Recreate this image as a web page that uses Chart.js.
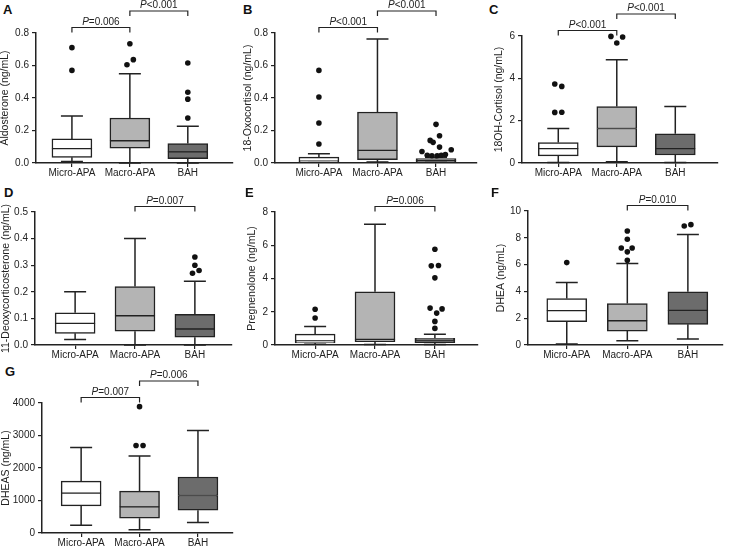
<!DOCTYPE html>
<html>
<head>
<meta charset="utf-8">
<script src="https://cdn.jsdelivr.net/npm/chart.js@4.4.1/dist/chart.umd.min.js"></script>
<style>
body { margin: 0; background: #fff; }
#fig { position: relative; width: 729px; height: 547px; overflow: hidden; }
#fig canvas { position: absolute; }
.tag { position: absolute; font: bold 13px "Liberation Sans", Arial, sans-serif; line-height: 1; color: #111; }
</style>
</head>
<body>
<div id="fig"></div>
<script>
const groups = ['Micro-APA', 'Macro-APA', 'BAH'];

// box values per group: [min, q1, median, q3, max]
const aldosterone = [[0.01, 0.035, 0.088, 0.148, 0.29], [0.0, 0.092, 0.137, 0.277, 0.55], [0.0, 0.027, 0.068, 0.12, 0.226]];
const oxocortisol = [[0.005, 0.006, 0.012, 0.036, 0.057], [0.006, 0.02, 0.078, 0.314, 0.763], [0.004, 0.006, 0.016, 0.027, 0.035]];
const hydroxycortisol = [[0.02, 0.34, 0.68, 0.97, 1.63], [0.06, 0.76, 1.63, 2.67, 4.88], [0.02, 0.38, 0.68, 1.38, 2.67]];
const deoxycorticosterone = [[0.021, 0.044, 0.081, 0.121, 0.2], [0.0, 0.052, 0.11, 0.22, 0.4], [0.0, 0.029, 0.06, 0.115, 0.24]];
const pregnenolone = [[0.04, 0.12, 0.25, 0.65, 1.12], [0.03, 0.2, 0.34, 3.2, 7.26], [0.03, 0.14, 0.3, 0.4, 0.64]];
const dhea = [[0.07, 1.74, 2.56, 3.47, 4.67], [0.32, 1.04, 1.81, 3.1, 6.08], [0.45, 1.54, 2.58, 3.97, 8.24]];
const dheas = [[237, 835, 1227, 1598, 2629], [103, 454, 804, 1289, 2371], [320, 701, 1155, 1722, 3155]];

// outliers: [group, value, sideways shift]
const aldosteroneOut = [[0, 0.71, 0], [0, 0.57, 0], [1, 0.734, 0], [1, 0.605, -0.05], [1, 0.636, 0.06],
  [2, 0.615, 0], [2, 0.435, 0], [2, 0.393, 0], [2, 0.277, 0]];
const oxocortisolOut = [[0, 0.57, 0], [0, 0.406, 0], [0, 0.246, 0], [0, 0.117, 0],
  [2, 0.238, 0], [2, 0.168, 0.06], [2, 0.139, -0.1], [2, 0.127, -0.05], [2, 0.098, 0.06], [2, 0.071, -0.24],
  [2, 0.082, 0.26], [2, 0.048, -0.15], [2, 0.045, -0.07], [2, 0.045, 0.02], [2, 0.048, 0.09], [2, 0.052, 0.16]];
const hydroxycortisolOut = [[0, 3.73, -0.06], [0, 3.62, 0.06], [0, 2.39, -0.06], [0, 2.4, 0.06],
  [1, 5.98, -0.1], [1, 5.67, 0], [1, 5.95, 0.1]];
const deoxycorticosteroneOut = [[2, 0.331, 0], [2, 0.3, 0], [2, 0.27, -0.04], [2, 0.28, 0.07]];
const pregnenoloneOut = [[0, 2.15, 0], [0, 1.62, 0],
  [2, 5.76, 0], [2, 4.76, -0.06], [2, 4.78, 0.06], [2, 4.04, 0], [2, 2.22, -0.08], [2, 2.17, 0.12],
  [2, 1.92, 0.03], [2, 1.42, 0], [2, 1.0, 0]];
const dheaOut = [[0, 6.15, 0], [1, 8.51, 0], [1, 7.89, 0], [1, 7.24, -0.1], [1, 7.24, 0.08], [1, 6.95, 0], [1, 6.33, 0],
  [2, 8.88, -0.06], [2, 8.98, 0.05]];
const dheasOut = [[1, 3887, 0], [1, 2691, -0.06], [1, 2691, 0.06]];

// p-values: [text after P, from group, to group, level]
const pAldosterone = [['=0.006', 0, 1, 0], ['<0.001', 1, 2, 1]];
const pOxocortisol = [['<0.001', 0, 1, 0], ['<0.001', 1, 2, 1]];
const pHydroxycortisol = [['<0.001', 0, 1, 0], ['<0.001', 1, 2, 1]];
const pDeoxycorticosterone = [['=0.007', 1, 2, 0]];
const pPregnenolone = [['=0.006', 1, 2, 0]];
const pDhea = [['=0.010', 1, 2, 0]];
const pDheas = [['=0.007', 0, 1, 0], ['=0.006', 1, 2, 1]];

const fills = ['#ffffff', '#b4b4b4', '#6c6c6c'];
const ink = '#222';
const fontFamily = '"Liberation Sans", Arial, sans-serif';

const panels = [
  { tag: 'A', tx: 3, ty: 3, title: 'Aldosterone (ng/mL)', box: aldosterone, out: aldosteroneOut, p: pAldosterone, yMax: 0.8, step: 0.2, dec: 1,
    L: -1, T: 0, H: 182, axisX: 36, axisEnd: 233, top: 33, bottom: 163, xmin: -0.62, xmax: 2.78 },
  { tag: 'B', tx: 243, ty: 3, title: '18-Oxocortisol (ng/mL)', box: oxocortisol, out: oxocortisolOut, p: pOxocortisol, yMax: 0.8, step: 0.2, dec: 1,
    L: 242, T: 0, H: 182, axisX: 275, axisEnd: 477, top: 33, bottom: 163, xmin: -0.75, xmax: 2.7 },
  { tag: 'C', tx: 489, ty: 3, title: '18OH-Cortisol (ng/mL)', box: hydroxycortisol, out: hydroxycortisolOut, p: pHydroxycortisol, yMax: 6, step: 2, dec: 0,
    L: 493, T: 0, H: 182, axisX: 522, axisEnd: 718, top: 36, bottom: 163, xmin: -0.62, xmax: 2.73 },
  { tag: 'D', tx: 4, ty: 186, title: '11-Deoxycorticosterone (ng/mL)', box: deoxycorticosterone, out: deoxycorticosteroneOut, p: pDeoxycorticosterone, yMax: 0.5, step: 0.1, dec: 1,
    L: 0, T: 180, H: 182, axisX: 35, axisEnd: 232, top: 212, bottom: 345, xmin: -0.67, xmax: 2.62 },
  { tag: 'E', tx: 245, ty: 186, title: 'Pregnenolone (ng/mL)', box: pregnenolone, out: pregnenoloneOut, p: pPregnenolone, yMax: 8, step: 2, dec: 0,
    L: 246, T: 180, H: 182, axisX: 275, axisEnd: 478, top: 212, bottom: 345, xmin: -0.67, xmax: 2.72 },
  { tag: 'F', tx: 491, ty: 186, title: 'DHEA (ng/mL)', box: dhea, out: dheaOut, p: pDhea, yMax: 10, step: 2, dec: 0,
    L: 495, T: 180, H: 182, axisX: 528, axisEnd: 723, top: 211, bottom: 345, xmin: -0.64, xmax: 2.58 },
  { tag: 'G', tx: 5, ty: 365, title: 'DHEAS (ng/mL)', box: dheas, out: dheasOut, p: pDheas, yMax: 4000, step: 1000, dec: 0,
    L: 0, T: 360, H: 187, axisX: 42, axisEnd: 233, top: 403, bottom: 533, xmin: -0.67, xmax: 2.6 }
];

Chart.defaults.font.family = fontFamily;
Chart.defaults.font.size = 10;
Chart.defaults.color = ink;

// whiskers under the boxes, brackets with p-values above the plot
function boxExtras(panel) {
  return {
    id: 'boxExtras',
    beforeDatasetsDraw(chart) {
      const { ctx, scales: { x, y } } = chart;
      ctx.save();
      ctx.strokeStyle = ink;
      ctx.lineWidth = 1.5;
      panel.box.forEach((b, i) => {
        const px = x.getPixelForValue(i);
        ctx.beginPath();
        ctx.moveTo(px, y.getPixelForValue(b[3]));
        ctx.lineTo(px, y.getPixelForValue(b[4]));
        ctx.moveTo(px, y.getPixelForValue(b[1]));
        ctx.lineTo(px, y.getPixelForValue(b[0]));
        [b[0], b[4]].forEach(v => {
          const py = y.getPixelForValue(v);
          ctx.moveTo(px - 11, py);
          ctx.lineTo(px + 11, py);
        });
        ctx.stroke();
      });
      ctx.restore();
    },
    afterDraw(chart) {
      const { ctx, chartArea, scales: { x } } = chart;
      ctx.save();
      ctx.strokeStyle = ink;
      ctx.fillStyle = ink;
      ctx.lineWidth = 1.2;
      ctx.textBaseline = 'alphabetic';
      panel.p.forEach(([txt, a, b, level]) => {
        const by = chartArea.top - (level ? 22 : 5.5);
        const x1 = x.getPixelForValue(a), x2 = x.getPixelForValue(b);
        ctx.beginPath();
        ctx.moveTo(x1, by + 5);
        ctx.lineTo(x1, by);
        ctx.lineTo(x2, by);
        ctx.lineTo(x2, by + 5);
        ctx.stroke();
        ctx.font = 'italic 10px ' + fontFamily;
        const wp = ctx.measureText('P').width;
        ctx.font = '10px ' + fontFamily;
        const wr = ctx.measureText(txt).width;
        const sx = (x1 + x2) / 2 - (wp + wr) / 2;
        ctx.textAlign = 'left';
        ctx.font = 'italic 10px ' + fontFamily;
        ctx.fillText('P', sx, by - 3);
        ctx.font = '10px ' + fontFamily;
        ctx.fillText(txt, sx + wp, by - 3);
      });
      ctx.restore();
    }
  };
}

const fig = document.getElementById('fig');

panels.forEach(panel => {
  const tag = document.createElement('div');
  tag.className = 'tag';
  tag.textContent = panel.tag;
  tag.style.left = panel.tx + 'px';
  tag.style.top = panel.ty + 'px';
  fig.appendChild(tag);

  const W = panel.axisEnd - panel.L + 5;
  const canvas = document.createElement('canvas');
  canvas.width = W;
  canvas.height = panel.H;
  canvas.style.left = panel.L + 'px';
  canvas.style.top = panel.T + 'px';
  canvas.style.width = W + 'px';
  canvas.style.height = panel.H + 'px';
  fig.appendChild(canvas);

  const barStyle = {
    type: 'bar',
    backgroundColor: fills,
    borderColor: ink,
    borderSkipped: false,
    grouped: false,
    barPercentage: 1,
    categoryPercentage: 1,
    maxBarThickness: 40
  };

  new Chart(canvas.getContext('2d'), {
    type: 'bar',
    data: {
      datasets: [
        Object.assign({}, barStyle, {
          data: panel.box.map((b, i) => ({ x: i, y: [b[1], b[2]] })),
          borderWidth: { left: 1.5, right: 1.5, bottom: 1.5, top: 1 }
        }),
        Object.assign({}, barStyle, {
          data: panel.box.map((b, i) => ({ x: i, y: [b[2], b[3]] })),
          borderWidth: { left: 1.5, right: 1.5, bottom: 1, top: 1.5 }
        }),
        {
          type: 'scatter',
          data: panel.out.map(o => ({ x: o[0] + o[2], y: o[1] })),
          pointRadius: 2.8,
          pointBackgroundColor: '#111',
          pointBorderWidth: 0,
          clip: false
        }
      ]
    },
    options: {
      responsive: false,
      animation: false,
      devicePixelRatio: 1,
      layout: {
        autoPadding: false,
        padding: { top: panel.top - panel.T, right: 5, left: 0, bottom: 0 }
      },
      plugins: { legend: { display: false }, tooltip: { enabled: false } },
      scales: {
        x: {
          type: 'linear',
          min: panel.xmin,
          max: panel.xmax,
          offset: false,
          afterBuildTicks: s => { s.ticks = groups.map((g, i) => ({ value: i })); },
          afterFit: s => { s.height = panel.T + panel.H - panel.bottom; },
          ticks: { autoSkip: false, maxRotation: 0, padding: 0, callback: v => groups[v] },
          grid: { drawOnChartArea: false, drawTicks: true, tickLength: 4, color: ink, lineWidth: 1.2, offset: false },
          border: { display: true, color: ink, width: 1.5 }
        },
        y: {
          min: 0,
          max: panel.yMax,
          afterFit: s => { s.width = panel.axisX - panel.L; },
          ticks: { stepSize: panel.step, padding: 3, callback: v => Number(v).toFixed(panel.dec) },
          grid: { drawOnChartArea: false, drawTicks: true, tickLength: 4, color: ink, lineWidth: 1.2 },
          border: { display: true, color: ink, width: 1.5 },
          title: { display: true, text: panel.title, font: { size: 10.5 }, padding: 0 }
        }
      }
    },
    plugins: [boxExtras(panel)]
  });
});
</script>
</body>
</html>
